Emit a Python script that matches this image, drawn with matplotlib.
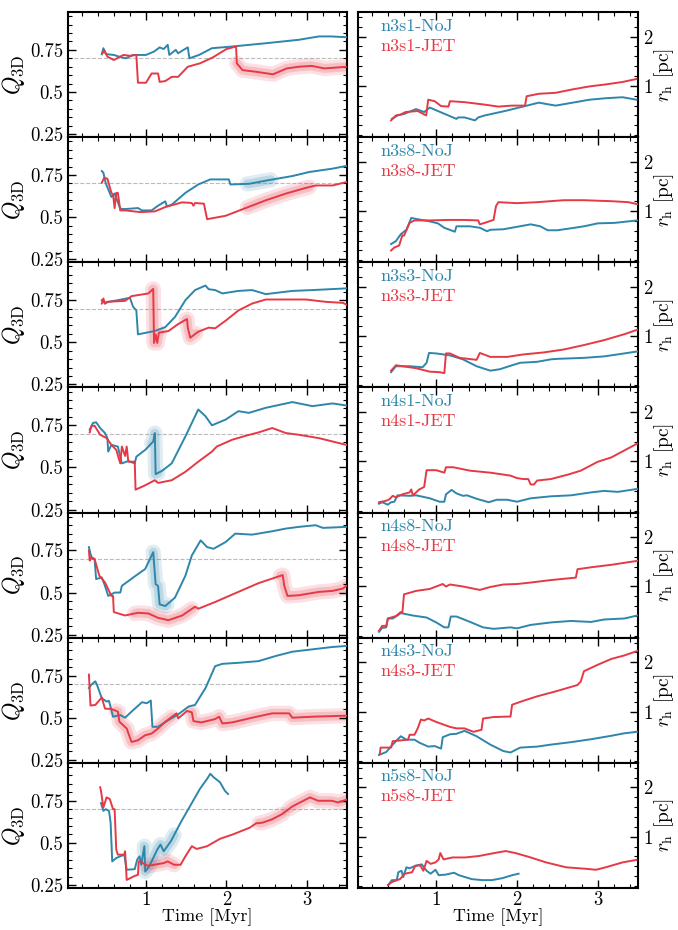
import numpy as np
import matplotlib
matplotlib.use("Agg")
import matplotlib.pyplot as plt
from matplotlib.ticker import MultipleLocator, FixedLocator, FixedFormatter

plt.rcParams['font.family'] = ['cmr10', 'DejaVu Serif']
plt.rcParams['mathtext.fontset'] = 'cm'
plt.rcParams['axes.formatter.use_mathtext'] = True

BLUE = '#2E86AB'
RED = '#E63946'

runs = ['n3s1', 'n3s8', 'n3s3', 'n4s1', 'n4s8', 'n4s3', 'n5s8']

# ---------------- Q_3D (left column) ----------------
q_n3s1_noj_t = [0.45,0.47,0.5,0.6,0.7,0.75,0.84,0.9,1.0,1.1,1.17,1.22,1.27,1.29,1.37,1.4,1.45,1.52,1.54,1.66,1.82,2.07,2.5,2.9,3.15,3.3,3.5]
q_n3s1_noj_v = [0.724,0.76,0.725,0.72,0.705,0.70,0.72,0.72,0.72,0.74,0.765,0.755,0.78,0.72,0.75,0.73,0.745,0.765,0.70,0.72,0.76,0.77,0.79,0.81,0.83,0.83,0.825]
q_n3s1_jet_t = [0.46,0.48,0.52,0.6,0.72,0.8,0.88,0.9,1.0,1.07,1.15,1.17,1.24,1.32,1.4,1.52,1.67,1.83,2.0,2.12,2.13,2.2,2.37,2.58,2.75,2.9,3.06,3.22,3.5]
q_n3s1_jet_v = [0.73,0.75,0.71,0.69,0.72,0.715,0.72,0.555,0.555,0.61,0.61,0.56,0.565,0.59,0.59,0.65,0.67,0.705,0.755,0.77,0.67,0.63,0.62,0.605,0.64,0.65,0.655,0.64,0.65]

q_n3s8_noj_t = [0.45,0.47,0.5,0.57,0.61,0.68,0.74,0.9,0.95,1.07,1.15,1.24,1.26,1.32,1.49,1.65,1.8,2.03,2.05,2.28,2.53,2.82,3.03,3.32,3.49]
q_n3s8_noj_v = [0.774,0.764,0.70,0.62,0.64,0.55,0.548,0.554,0.54,0.54,0.568,0.594,0.564,0.574,0.644,0.694,0.724,0.724,0.694,0.698,0.72,0.744,0.768,0.788,0.804]
q_n3s8_jet_t = [0.45,0.48,0.52,0.57,0.59,0.61,0.63,0.65,0.68,0.74,0.93,1.11,1.24,1.45,1.57,1.59,1.61,1.72,1.76,1.99,2.24,2.49,2.74,2.99,3.11,3.32,3.49]
q_n3s8_jet_v = [0.704,0.734,0.728,0.644,0.634,0.554,0.644,0.644,0.54,0.54,0.53,0.534,0.56,0.588,0.584,0.568,0.584,0.58,0.488,0.508,0.554,0.60,0.64,0.674,0.688,0.688,0.708]

q_n3s3_noj_t = [0.45,0.49,0.53,0.65,0.8,0.84,0.88,0.9,0.94,1.11,1.24,1.36,1.49,1.61,1.74,1.78,1.86,1.95,2.15,2.32,2.49,2.82,3.07,3.49]
q_n3s3_noj_v = [0.75,0.73,0.74,0.75,0.764,0.71,0.69,0.547,0.551,0.567,0.59,0.65,0.75,0.81,0.837,0.815,0.81,0.79,0.805,0.81,0.786,0.805,0.81,0.82]
q_n3s3_jet_t = [0.45,0.47,0.49,0.51,0.74,0.82,1.03,1.09,1.10,1.12,1.14,1.16,1.28,1.40,1.51,1.52,1.55,1.65,1.78,1.86,1.99,2.15,2.32,2.49,2.82,2.99,3.24,3.45,3.49]
q_n3s3_jet_v = [0.73,0.76,0.73,0.74,0.746,0.774,0.79,0.817,0.496,0.547,0.496,0.557,0.567,0.608,0.638,0.587,0.527,0.563,0.587,0.583,0.628,0.689,0.73,0.754,0.754,0.754,0.74,0.734,0.724]

q_n4s1_noj_t = [0.30,0.34,0.38,0.43,0.49,0.52,0.53,0.57,0.65,0.70,0.78,0.86,0.88,0.99,1.09,1.11,1.12,1.20,1.32,1.49,1.65,1.74,1.82,1.99,2.15,2.28,2.49,2.82,3.07,3.32,3.49]
q_n4s1_noj_v = [0.724,0.764,0.768,0.734,0.704,0.674,0.594,0.634,0.624,0.524,0.538,0.524,0.564,0.604,0.654,0.704,0.46,0.48,0.524,0.684,0.844,0.804,0.75,0.784,0.834,0.824,0.854,0.888,0.864,0.88,0.868]
q_n4s1_jet_t = [0.30,0.32,0.36,0.43,0.51,0.57,0.63,0.68,0.70,0.74,0.76,0.78,0.86,0.87,0.99,1.11,1.15,1.32,1.49,1.65,1.82,1.88,2.07,2.24,2.40,2.57,2.74,2.90,3.15,3.32,3.49]
q_n4s1_jet_v = [0.708,0.744,0.748,0.694,0.674,0.634,0.604,0.524,0.624,0.568,0.624,0.534,0.534,0.368,0.394,0.424,0.408,0.424,0.474,0.534,0.594,0.624,0.664,0.688,0.708,0.734,0.704,0.694,0.674,0.654,0.634]

q_n4s8_noj_t = [0.29,0.31,0.33,0.36,0.38,0.45,0.49,0.53,0.57,0.61,0.68,0.70,0.86,0.99,1.09,1.12,1.15,1.17,1.24,1.36,1.49,1.57,1.68,1.76,1.84,1.99,2.11,2.32,2.57,2.74,2.90,3.11,3.20,3.49]
q_n4s8_noj_v = [0.77,0.73,0.70,0.70,0.58,0.59,0.54,0.48,0.49,0.50,0.50,0.54,0.596,0.64,0.74,0.55,0.54,0.43,0.42,0.47,0.60,0.72,0.81,0.77,0.76,0.80,0.85,0.844,0.864,0.88,0.89,0.90,0.884,0.89]
q_n4s8_jet_t = [0.29,0.30,0.32,0.36,0.42,0.49,0.53,0.57,0.59,0.60,0.74,0.90,1.03,1.15,1.28,1.45,1.61,1.65,1.86,2.11,2.40,2.70,2.72,2.76,2.90,3.15,3.32,3.45,3.49]
q_n4s8_jet_v = [0.75,0.69,0.71,0.70,0.60,0.56,0.52,0.48,0.48,0.384,0.364,0.38,0.376,0.35,0.336,0.364,0.416,0.404,0.444,0.496,0.556,0.604,0.54,0.48,0.484,0.504,0.51,0.524,0.54]

q_n4s3_noj_t = [0.29,0.32,0.37,0.39,0.45,0.51,0.54,0.59,0.68,0.74,0.82,0.95,1.01,1.06,1.08,1.15,1.28,1.40,1.53,1.61,1.74,1.86,1.95,2.15,2.40,2.61,2.82,3.07,3.32,3.49]
q_n4s3_noj_v = [0.676,0.696,0.716,0.696,0.616,0.596,0.60,0.506,0.516,0.50,0.536,0.592,0.586,0.602,0.446,0.446,0.486,0.52,0.566,0.576,0.676,0.806,0.82,0.826,0.836,0.866,0.892,0.906,0.92,0.926]
q_n4s3_jet_t = [0.29,0.31,0.37,0.45,0.49,0.57,0.65,0.67,0.76,0.82,0.90,0.99,1.07,1.15,1.24,1.38,1.40,1.51,1.57,1.59,1.69,1.86,1.91,1.95,2.07,2.32,2.57,2.78,2.82,3.07,3.49]
q_n4s3_jet_v = [0.756,0.572,0.576,0.62,0.554,0.552,0.536,0.476,0.436,0.356,0.366,0.396,0.406,0.436,0.476,0.526,0.496,0.54,0.532,0.48,0.472,0.492,0.506,0.466,0.472,0.50,0.526,0.526,0.50,0.506,0.512]

q_n5s8_noj_t = [0.44,0.47,0.50,0.54,0.56,0.58,0.63,0.73,0.76,0.86,0.89,0.92,0.94,0.98,0.99,1.04,1.08,1.14,1.18,1.22,1.31,1.43,1.55,1.67,1.76,1.80,1.84,1.92,1.98,2.02]
q_n5s8_noj_v = [0.736,0.69,0.70,0.69,0.62,0.39,0.41,0.43,0.34,0.344,0.40,0.42,0.37,0.48,0.33,0.36,0.40,0.46,0.49,0.45,0.51,0.62,0.72,0.82,0.88,0.91,0.89,0.86,0.81,0.79]
q_n5s8_jet_t = [0.43,0.44,0.47,0.51,0.55,0.59,0.61,0.63,0.65,0.73,0.74,0.76,0.86,0.90,0.91,0.94,0.96,1.02,1.10,1.22,1.27,1.35,1.43,1.49,1.57,1.63,1.76,1.92,2.08,2.29,2.37,2.45,2.57,2.69,2.82,2.90,3.04,3.14,3.31,3.39,3.49]
q_n5s8_jet_v = [0.83,0.81,0.71,0.77,0.76,0.70,0.70,0.46,0.43,0.43,0.45,0.28,0.304,0.31,0.39,0.39,0.38,0.364,0.37,0.38,0.39,0.37,0.37,0.42,0.48,0.464,0.48,0.524,0.55,0.59,0.616,0.62,0.64,0.67,0.716,0.736,0.77,0.75,0.75,0.74,0.756]

# highlighted (glow) time intervals on the Q_3D curves
glow_noj = {'n3s8': [(2.26, 2.55)], 'n4s1': [(1.07, 1.15)], 'n4s8': [(1.09, 1.26)], 'n5s8': [(0.98, 1.35)]}
glow_jet = {'n3s1': [(2.13, 3.5)], 'n3s8': [(2.26, 3.03)], 'n3s3': [(1.08, 1.17), (1.5, 1.62)],
            'n4s8': [(0.86, 1.57), (2.67, 3.49)], 'n4s3': [(0.63, 1.32), (1.57, 3.49)],
            'n5s8': [(1.02, 1.35), (2.41, 2.69), (2.78, 3.49)]}

# ---------------- r_h (right column) ----------------
r_n3s1_noj_t = [0.45,0.52,0.6,0.75,0.85,0.92,1.02,1.15,1.25,1.27,1.35,1.48,1.52,1.6,1.85,2.1,2.27,2.48,2.69,2.9,3.1,3.31,3.48]
r_n3s1_noj_v = [0.33,0.40,0.43,0.53,0.47,0.56,0.49,0.40,0.33,0.36,0.36,0.30,0.36,0.40,0.49,0.59,0.66,0.60,0.66,0.72,0.75,0.77,0.72]
r_n3s1_jet_t = [0.44,0.5,0.56,0.62,0.77,0.875,0.9,0.98,1.06,1.15,1.17,1.35,1.6,1.77,1.94,2.1,2.12,2.27,2.48,2.69,2.9,3.1,3.31,3.48]
r_n3s1_jet_v = [0.30,0.40,0.42,0.47,0.49,0.40,0.72,0.69,0.59,0.58,0.69,0.67,0.62,0.58,0.60,0.60,0.79,0.84,0.86,0.93,0.99,1.03,1.08,1.14]

r_n3s8_noj_t = [0.44,0.5,0.56,0.63,0.69,0.75,0.92,1.02,1.10,1.23,1.25,1.42,1.54,1.63,1.67,1.83,2.0,2.17,2.29,2.38,2.5,2.67,2.83,3.0,3.21,3.38,3.49]
r_n3s8_noj_v = [0.33,0.39,0.53,0.62,0.86,0.84,0.79,0.75,0.66,0.58,0.69,0.69,0.66,0.59,0.62,0.63,0.68,0.73,0.69,0.61,0.61,0.65,0.69,0.75,0.76,0.79,0.81]
r_n3s8_jet_t = [0.44,0.48,0.54,0.58,0.60,0.67,0.73,0.92,1.17,1.33,1.52,1.54,1.60,1.71,1.74,1.77,2.0,2.25,2.58,2.83,3.17,3.38,3.49]
r_n3s8_jet_v = [0.20,0.26,0.30,0.51,0.50,0.76,0.81,0.81,0.82,0.82,0.81,0.73,0.76,0.82,1.10,1.18,1.16,1.18,1.22,1.22,1.20,1.18,1.14]

r_n3s3_noj_t = [0.44,0.5,0.67,0.83,0.88,0.91,1.0,1.17,1.33,1.5,1.67,1.79,1.92,2.04,2.25,2.42,2.5,2.83,3.08,3.33,3.49]
r_n3s3_noj_v = [0.27,0.39,0.39,0.37,0.46,0.66,0.65,0.61,0.53,0.39,0.30,0.33,0.40,0.46,0.48,0.53,0.54,0.56,0.59,0.65,0.69]
r_n3s3_jet_t = [0.44,0.5,0.58,0.75,0.92,1.04,1.10,1.12,1.17,1.29,1.5,1.54,1.67,1.88,2.08,2.33,2.58,2.83,3.08,3.33,3.49]
r_n3s3_jet_v = [0.30,0.41,0.39,0.35,0.28,0.27,0.25,0.65,0.65,0.56,0.52,0.66,0.58,0.58,0.63,0.67,0.73,0.82,0.92,1.04,1.13]

r_n4s1_noj_t = [0.29,0.33,0.40,0.44,0.48,0.52,0.67,0.75,0.92,1.04,1.10,1.12,1.19,1.25,1.33,1.38,1.50,1.65,1.75,1.88,2.0,2.17,2.42,2.67,2.92,3.08,3.25,3.49]
r_n4s1_noj_v = [0.14,0.17,0.12,0.17,0.18,0.31,0.30,0.31,0.25,0.18,0.18,0.33,0.42,0.35,0.30,0.31,0.24,0.17,0.22,0.22,0.18,0.25,0.29,0.31,0.37,0.40,0.38,0.44]
r_n4s1_jet_t = [0.29,0.38,0.42,0.46,0.50,0.58,0.67,0.69,0.71,0.79,0.85,0.88,1.0,1.10,1.12,1.21,1.42,1.67,1.92,2.0,2.08,2.14,2.17,2.21,2.25,2.42,2.63,2.79,3.0,3.17,3.33,3.49]
r_n4s1_jet_v = [0.17,0.20,0.23,0.30,0.27,0.33,0.37,0.43,0.31,0.43,0.48,0.82,0.82,0.77,0.88,0.88,0.81,0.77,0.71,0.66,0.64,0.64,0.53,0.53,0.61,0.64,0.73,0.81,0.99,1.08,1.22,1.36]

r_n4s8_noj_t = [0.29,0.33,0.38,0.40,0.46,0.50,0.56,0.71,0.88,1.0,1.10,1.15,1.18,1.25,1.42,1.58,1.71,1.92,2.0,2.17,2.42,2.67,2.92,3.08,3.33,3.49]
r_n4s8_noj_v = [0.08,0.16,0.17,0.35,0.35,0.39,0.46,0.41,0.37,0.27,0.17,0.17,0.39,0.39,0.28,0.17,0.14,0.17,0.15,0.22,0.27,0.30,0.28,0.33,0.35,0.41]
r_n4s8_jet_t = [0.29,0.33,0.38,0.40,0.50,0.56,0.58,0.60,0.75,0.92,1.08,1.12,1.17,1.33,1.54,1.67,1.83,2.0,2.17,2.42,2.67,2.73,2.75,2.92,3.17,3.49]
r_n4s8_jet_v = [0.10,0.20,0.20,0.35,0.40,0.48,0.47,0.84,0.91,0.95,1.05,1.0,1.04,1.0,0.93,0.99,1.04,1.05,1.08,1.13,1.17,1.18,1.35,1.39,1.44,1.52]

r_n4s3_noj_t = [0.29,0.38,0.46,0.56,0.63,0.73,0.79,0.9,0.98,1.06,1.08,1.17,1.25,1.35,1.5,1.67,1.83,1.92,2.04,2.25,2.42,2.67,2.92,3.17,3.33,3.49]
r_n4s3_noj_v = [0.12,0.18,0.33,0.50,0.43,0.43,0.37,0.29,0.30,0.25,0.48,0.54,0.55,0.61,0.50,0.33,0.20,0.17,0.27,0.29,0.33,0.38,0.44,0.51,0.56,0.59]
r_n4s3_jet_t = [0.30,0.31,0.44,0.46,0.65,0.67,0.73,0.77,0.81,0.85,0.90,1.0,1.17,1.25,1.35,1.46,1.56,1.58,1.71,1.92,1.94,2.08,2.25,2.50,2.75,2.79,2.83,3.0,3.17,3.33,3.49]
r_n4s3_jet_v = [0.14,0.27,0.27,0.40,0.43,0.53,0.53,0.66,0.84,0.82,0.86,0.79,0.69,0.66,0.66,0.59,0.63,0.86,0.89,0.90,1.14,1.22,1.31,1.42,1.54,1.61,1.82,1.95,2.07,2.14,2.23]

r_n5s8_noj_t = [0.41,0.45,0.51,0.53,0.57,0.59,0.63,0.67,0.74,0.82,0.88,0.93,0.99,1.03,1.11,1.22,1.28,1.44,1.57,1.69,1.82,1.94,2.02]
r_n5s8_noj_v = [0.03,0.12,0.12,0.28,0.31,0.18,0.38,0.36,0.41,0.44,0.31,0.25,0.33,0.22,0.23,0.27,0.22,0.14,0.12,0.12,0.16,0.22,0.25]
r_n5s8_jet_t = [0.40,0.45,0.55,0.61,0.70,0.74,0.80,0.84,0.88,0.93,0.99,1.03,1.05,1.09,1.20,1.36,1.53,1.69,1.86,1.98,2.15,2.36,2.61,2.85,2.98,3.10,3.31,3.48]
r_n5s8_jet_v = [0.02,0.08,0.14,0.25,0.28,0.41,0.42,0.31,0.51,0.45,0.48,0.54,0.67,0.54,0.58,0.58,0.61,0.66,0.71,0.67,0.59,0.48,0.38,0.35,0.33,0.38,0.48,0.53]

q_ticks = [0.25, 0.5, 0.75]
q_ticklabels = ['0.25', '0.5', '0.75']
r_ticks = [1, 2]
r_ticklabels = ['1', '2']
t_ticks = [1, 2, 3]
t_ticklabels = ['1', '2', '3']
q_ref = 0.7

G = globals()

W, H = 678, 930
fig = plt.figure(figsize=(W / 100, H / 100), dpi=100)
top_px, bot_px = 12, 888
row_h = (bot_px - top_px) / 7.0
lx0, lx1 = 68, 347
rx0, rx1 = 358, 638


def style(ax, bottom):
    for s in ax.spines.values():
        s.set_linewidth(1.5)
    ax.tick_params(which='both', direction='in', top=True, right=True, labelsize=13.5)
    ax.tick_params(which='major', length=6, width=1.0)
    ax.tick_params(which='minor', length=3, width=0.8)
    ax.tick_params(axis='x', pad=2)
    ax.set_xlim(0.03, 3.5)
    ax.xaxis.set_major_locator(FixedLocator(t_ticks))
    ax.xaxis.set_minor_locator(MultipleLocator(0.2))
    if bottom:
        ax.xaxis.set_major_formatter(FixedFormatter(t_ticklabels))
        ax.set_xlabel('Time [Myr]', fontsize=13, labelpad=0)
    else:
        ax.set_xticklabels([])


def glow(ax, t, v, intervals, color):
    t = np.asarray(t); v = np.asarray(v)
    for a, b in intervals:
        m = (t >= a) & (t <= b)
        ts = np.concatenate([[a], t[m], [b]])
        vs = np.concatenate([[np.interp(a, t, v)], v[m], [np.interp(b, t, v)]])
        ax.plot(ts, vs, color=color, lw=11, alpha=0.15, solid_capstyle='round', zorder=1)
        ax.plot(ts, vs, color=color, lw=6.5, alpha=0.2, solid_capstyle='round', zorder=1)


for i, run in enumerate(runs):
    y1 = 1 - (top_px + i * row_h) / H
    y0 = 1 - (top_px + (i + 1) * row_h) / H
    bottom = (i == len(runs) - 1)

    # left: Q_3D
    axl = fig.add_axes([lx0 / W, y0, (lx1 - lx0) / W, y1 - y0])
    style(axl, bottom)
    axl.axhline(q_ref, color='#bbbbbb', ls='--', lw=0.8, zorder=0)
    tn, vn = G['q_%s_noj_t' % run], G['q_%s_noj_v' % run]
    tj, vj = G['q_%s_jet_t' % run], G['q_%s_jet_v' % run]
    glow(axl, tn, vn, glow_noj.get(run, []), BLUE)
    glow(axl, tj, vj, glow_jet.get(run, []), RED)
    axl.plot(tn, vn, color=BLUE, lw=1.4, zorder=3)
    axl.plot(tj, vj, color=RED, lw=1.4, zorder=3)
    axl.set_ylim(0.232, 0.975)
    axl.yaxis.set_major_locator(FixedLocator(q_ticks))
    axl.yaxis.set_major_formatter(FixedFormatter(q_ticklabels))
    axl.yaxis.set_minor_locator(MultipleLocator(0.05))
    axl.set_ylabel(r'$Q_{\mathrm{3D}}$', fontsize=17, labelpad=2)

    # right: r_h
    axr = fig.add_axes([rx0 / W, y0, (rx1 - rx0) / W, y1 - y0])
    style(axr, bottom)
    tn, vn = G['r_%s_noj_t' % run], G['r_%s_noj_v' % run]
    tj, vj = G['r_%s_jet_t' % run], G['r_%s_jet_v' % run]
    axr.plot(tn, vn, color=BLUE, lw=1.4, zorder=3)
    axr.plot(tj, vj, color=RED, lw=1.4, zorder=3)
    axr.set_ylim(-0.04, 2.5)
    axr.yaxis.set_major_locator(FixedLocator(r_ticks))
    axr.yaxis.set_major_formatter(FixedFormatter(r_ticklabels))
    axr.yaxis.set_minor_locator(MultipleLocator(0.2))
    axr.tick_params(axis='y', which='both', labelleft=False, labelright=True)
    axr.yaxis.set_label_position('right')
    axr.set_ylabel(r'$r_{\mathrm{h}}$ [pc]', fontsize=14, labelpad=0)
    axr.text(0.08, 0.95, '%s-NoJ' % run, color=BLUE, fontsize=13,
             transform=axr.transAxes, va='top', ha='left')
    axr.text(0.08, 0.79, '%s-JET' % run, color=RED, fontsize=13,
             transform=axr.transAxes, va='top', ha='left')

fig.savefig('out.png', dpi=100)
